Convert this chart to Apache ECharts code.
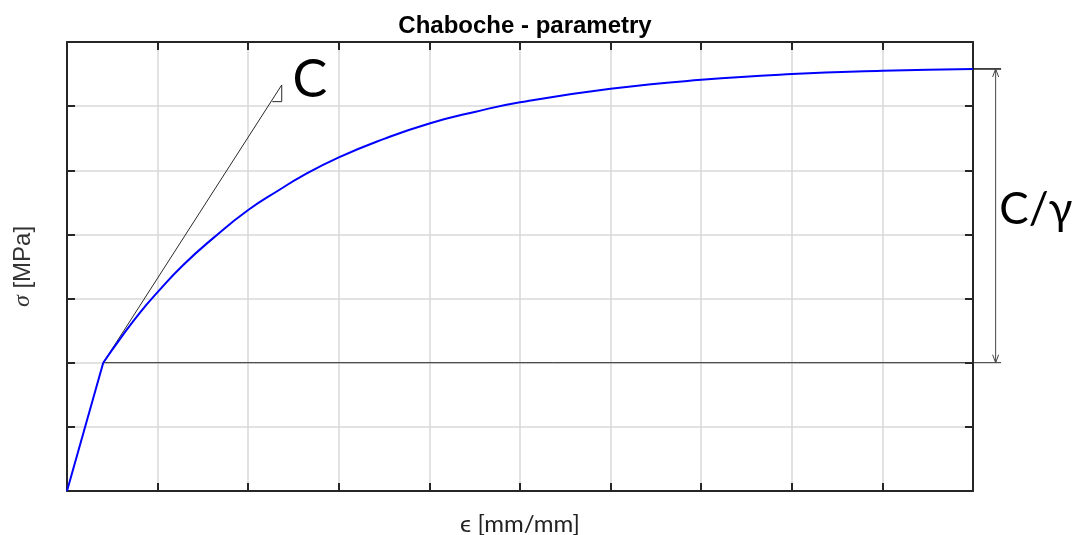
<!DOCTYPE html>
<html>
<head>
<meta charset="utf-8">
<title>Chaboche - parametry</title>
<script src="https://cdn.jsdelivr.net/npm/echarts@6/dist/echarts.min.js"></script>
<style>
  html, body { margin: 0; padding: 0; background: #ffffff; }
  #chart { width: 1074px; height: 535px; }
</style>
</head>
<body>
<div id="chart"></div>
<script>
// Axis ranges (no tick labels are printed, only ticks and grid)
const xRange = [0, 10];
const yRange = [0, 7];

// Elastic branch up to the yield point
const elasticStrain = [0, 0.40];
const elasticStress = [0, 2.0];

// Hardening branch: backstress saturating towards C/γ
const plasticStrain = [0.40, 0.59, 0.81, 1.0, 1.28, 1.62, 2.0, 2.35, 2.57, 3, 3.5, 4, 4.5, 5, 6, 7, 8, 9, 10];
const plasticStress = [2.00, 2.38, 2.79, 3.10, 3.52, 3.95, 4.38, 4.70, 4.89, 5.20, 5.49, 5.73, 5.91, 6.06, 6.27, 6.41, 6.50, 6.55, 6.58];

// Initial tangent (slope C) and its small slope triangle
const tangentStrain = [0.40, 2.37];
const tangentStress = [2.0, 6.33];
const triangleStrain = [2.266, 2.37, 2.37];
const triangleStress = [6.07, 6.07, 6.33];

// Dimension line for C/γ: from the yield level to the saturation level
const yieldLevel = 2.0;
const saturationLevel = 6.58;
const dimStrain = 10.25;
const dimLineEnd = 10.31;

// Annotation anchors (data coordinates)
const labelC = [2.49, 6.40];
const labelCg = [10.29, 4.38];

const zip = (xs, ys) => xs.map((x, i) => [x, ys[i]]);

const frame = '#262626';
const thin = '#2a2a2a';
const annoFont = 'Lato, "Open Sans", sans-serif';

const chart = echarts.init(document.getElementById('chart'), null, { renderer: 'canvas' });

const xBase = {
  type: 'value', min: xRange[0], max: xRange[1], interval: 1,
  axisLine: { show: true, onZero: false, lineStyle: { color: frame, width: 2 } },
  axisTick: { show: true, inside: true, length: 8, lineStyle: { color: frame, width: 2 } },
  axisLabel: { show: false }
};
const yBase = {
  type: 'value', min: yRange[0], max: yRange[1], interval: 1,
  axisLine: { show: true, onZero: false, lineStyle: { color: frame, width: 2 } },
  axisTick: { show: true, inside: true, length: 8, lineStyle: { color: frame, width: 2 } },
  axisLabel: { show: false }
};

// Tangent, slope triangle, yield/saturation levels, the C/γ dimension arrow and the labels
function renderAnnotations(params, api) {
  const c = (x, y) => api.coord([x, y]);
  const seg = (a, b, w, col) => ({
    type: 'line',
    shape: { x1: a[0], y1: a[1], x2: b[0], y2: b[1] },
    style: { stroke: col || thin, lineWidth: w || 1 }
  });
  const yA = c(elasticStrain[1], yieldLevel);
  const yB = c(dimLineEnd, yieldLevel);
  const sA = c(xRange[1], saturationLevel);
  const sB = c(dimLineEnd, saturationLevel);
  const dLow = c(dimStrain, yieldLevel);
  const dHigh = c(dimStrain, saturationLevel);
  const tri = zip(triangleStrain, triangleStress).map(p => c(p[0], p[1]));
  const tan = zip(tangentStrain, tangentStress).map(p => c(p[0], p[1]));
  const head = 3, headLen = 8;
  const lc = c(labelC[0], labelC[1]);
  const lg = c(labelCg[0], labelCg[1]);
  return {
    type: 'group',
    children: [
      seg(yA, yB, 1),
      seg(sA, sB, 1.5, '#111'),
      seg(dLow, dHigh, 1, '#444'),
      { type: 'polyline', shape: { points: [[dHigh[0] - head, dHigh[1] + headLen], dHigh, [dHigh[0] + head, dHigh[1] + headLen]] },
        style: { stroke: '#444', lineWidth: 1, fill: null } },
      { type: 'polyline', shape: { points: [[dLow[0] - head, dLow[1] - headLen], dLow, [dLow[0] + head, dLow[1] - headLen]] },
        style: { stroke: '#444', lineWidth: 1, fill: null } },
      seg(tan[0], tan[1], 1),
      { type: 'polyline', shape: { points: tri }, style: { stroke: thin, lineWidth: 1, fill: null } },
      { type: 'text', x: lc[0], y: lc[1],
        style: { text: 'C', font: '52px ' + annoFont, fill: '#000', align: 'left', verticalAlign: 'middle' } },
      { type: 'text', x: lg[0], y: lg[1],
        style: { text: 'C/γ', font: '44px ' + annoFont, fill: '#000', align: 'left', verticalAlign: 'middle' } }
    ]
  };
}

chart.setOption({
  animation: false,
  backgroundColor: '#ffffff',
  title: {
    text: 'Chaboche - parametry',
    left: 520, textAlign: 'center', top: 9,
    textStyle: { fontFamily: 'Liberation Sans, Arial, sans-serif', fontWeight: 'bold', fontSize: 24, color: '#000' }
  },
  grid: { left: 67, right: 101, top: 42, bottom: 44, containLabel: false, outerBoundsMode: 'none' },
  xAxis: [
    Object.assign({}, xBase, {
      position: 'bottom',
      name: 'ϵ [mm/mm]', nameLocation: 'middle', nameGap: 21,
      nameTextStyle: { fontFamily: annoFont, fontSize: 24, color: '#222' },
      splitLine: { show: true, lineStyle: { color: '#d8d8d8', width: 1.5 } }
    }),
    Object.assign({}, xBase, { position: 'top', splitLine: { show: false } })
  ],
  yAxis: [
    Object.assign({}, yBase, {
      position: 'left',
      name: '{s|σ} [MPa]', nameLocation: 'middle', nameGap: 32,
      nameTextStyle: {
        fontFamily: 'Liberation Sans, Arial, sans-serif', fontSize: 24, color: '#333',
        rich: { s: { fontFamily: 'Liberation Serif, serif', fontStyle: 'italic', fontSize: 24, color: '#333' } }
      },
      splitLine: { show: true, lineStyle: { color: '#d8d8d8', width: 1.5 } }
    }),
    Object.assign({}, yBase, { position: 'right', splitLine: { show: false } })
  ],
  series: [
    {
      name: 'annotations', type: 'custom', coordinateSystem: 'cartesian2d',
      clip: false, silent: true, z: 3,
      renderItem: renderAnnotations,
      data: [[0, 0]]
    },
    {
      name: 'elastic', type: 'line', silent: true, symbol: 'none',
      lineStyle: { color: '#0000ff', width: 2 }, z: 5,
      data: zip(elasticStrain, elasticStress)
    },
    {
      name: 'hardening', type: 'line', silent: true, symbol: 'none',
      smooth: 0.5,
      lineStyle: { color: '#0000ff', width: 2 }, z: 5,
      data: zip(plasticStrain, plasticStress)
    }
  ]
});
</script>
</body>
</html>
